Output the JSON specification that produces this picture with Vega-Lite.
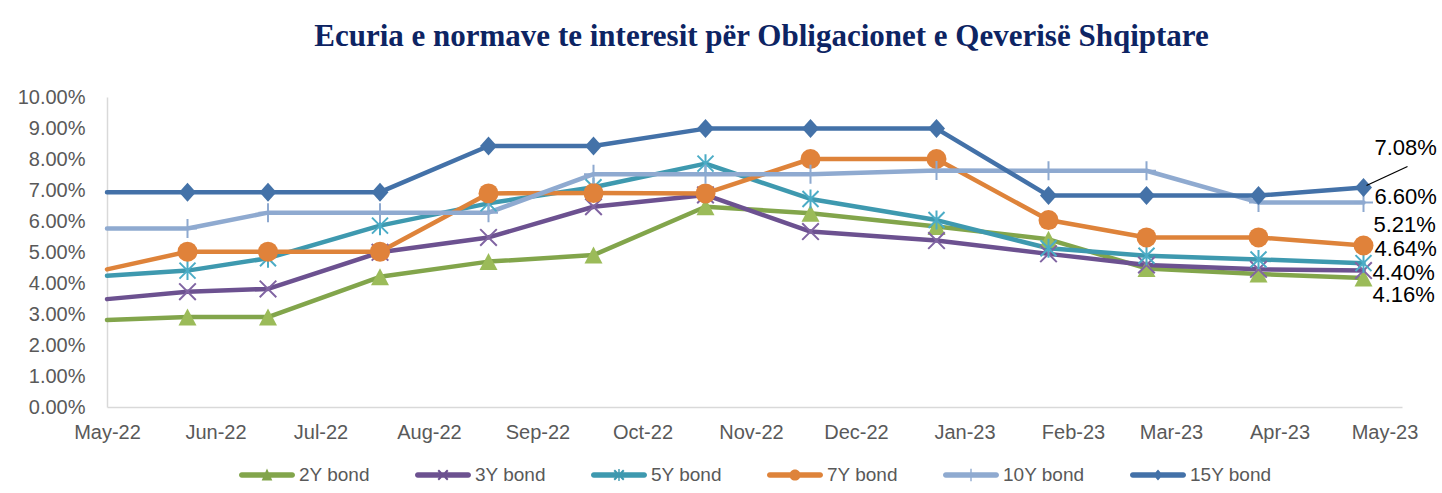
{
  "$schema": "https://vega.github.io/schema/vega-lite/v6.json",
  "autosize": {"type": "none"},
  "width": 1295,
  "height": 310,
  "padding": {"left": 107, "top": 97, "right": 40, "bottom": 86},
  "background": "white",
  "title": {
    "text": "Ecuria e normave te interesit për Obligacionet e Qeverisë Shqiptare",
    "font": "Liberation Serif",
    "fontSize": 31,
    "fontWeight": "bold",
    "color": "#0D2463",
    "anchor": "middle",
    "baseline": "alphabetic",
    "offset": 10,
    "dx": 7
  },
  "config": {
    "view": {"stroke": null},
    "font": "Liberation Sans",
    "legend": {"layout": {"bottom": {"anchor": "middle"}}}
  },
  "data": {
    "format": {"parse": {"date": "date"}},
    "values": [
      {"date": "2022-05-01T00:00:00", "series": "2Y bond", "rate": 0.0281},
      {"date": "2022-05-01T00:00:00", "series": "3Y bond", "rate": 0.0348},
      {"date": "2022-05-01T00:00:00", "series": "5Y bond", "rate": 0.0423},
      {"date": "2022-05-01T00:00:00", "series": "7Y bond", "rate": 0.0444},
      {"date": "2022-05-01T00:00:00", "series": "10Y bond", "rate": 0.0576},
      {"date": "2022-05-01T00:00:00", "series": "15Y bond", "rate": 0.0693},
      {"date": "2022-05-24T00:00:00", "series": "2Y bond", "rate": 0.0290},
      {"date": "2022-05-24T00:00:00", "series": "3Y bond", "rate": 0.0372},
      {"date": "2022-05-24T00:00:00", "series": "5Y bond", "rate": 0.0440},
      {"date": "2022-05-24T00:00:00", "series": "7Y bond", "rate": 0.0501},
      {"date": "2022-05-24T00:00:00", "series": "10Y bond", "rate": 0.0576},
      {"date": "2022-05-24T00:00:00", "series": "15Y bond", "rate": 0.0693},
      {"date": "2022-06-16T00:00:00", "series": "2Y bond", "rate": 0.0290},
      {"date": "2022-06-16T00:00:00", "series": "3Y bond", "rate": 0.0381},
      {"date": "2022-06-16T00:00:00", "series": "5Y bond", "rate": 0.0480},
      {"date": "2022-06-16T00:00:00", "series": "7Y bond", "rate": 0.0501},
      {"date": "2022-06-16T00:00:00", "series": "10Y bond", "rate": 0.0627},
      {"date": "2022-06-16T00:00:00", "series": "15Y bond", "rate": 0.0693},
      {"date": "2022-07-18T00:00:00", "series": "2Y bond", "rate": 0.0420},
      {"date": "2022-07-18T00:00:00", "series": "3Y bond", "rate": 0.0499},
      {"date": "2022-07-18T00:00:00", "series": "5Y bond", "rate": 0.0585},
      {"date": "2022-07-18T00:00:00", "series": "7Y bond", "rate": 0.0501},
      {"date": "2022-07-18T00:00:00", "series": "10Y bond", "rate": 0.0627},
      {"date": "2022-07-18T00:00:00", "series": "15Y bond", "rate": 0.0693},
      {"date": "2022-08-18T00:00:00", "series": "2Y bond", "rate": 0.0469},
      {"date": "2022-08-18T00:00:00", "series": "3Y bond", "rate": 0.0547},
      {"date": "2022-08-18T00:00:00", "series": "5Y bond", "rate": 0.0657},
      {"date": "2022-08-18T00:00:00", "series": "7Y bond", "rate": 0.0689},
      {"date": "2022-08-18T00:00:00", "series": "10Y bond", "rate": 0.0627},
      {"date": "2022-08-18T00:00:00", "series": "15Y bond", "rate": 0.0842},
      {"date": "2022-09-17T00:00:00", "series": "2Y bond", "rate": 0.0490},
      {"date": "2022-09-17T00:00:00", "series": "3Y bond", "rate": 0.0646},
      {"date": "2022-09-17T00:00:00", "series": "5Y bond", "rate": 0.0709},
      {"date": "2022-09-17T00:00:00", "series": "7Y bond", "rate": 0.0690},
      {"date": "2022-09-17T00:00:00", "series": "10Y bond", "rate": 0.0751},
      {"date": "2022-09-17T00:00:00", "series": "15Y bond", "rate": 0.0842},
      {"date": "2022-10-19T00:00:00", "series": "2Y bond", "rate": 0.0646},
      {"date": "2022-10-19T00:00:00", "series": "3Y bond", "rate": 0.0684},
      {"date": "2022-10-19T00:00:00", "series": "5Y bond", "rate": 0.0785},
      {"date": "2022-10-19T00:00:00", "series": "7Y bond", "rate": 0.0689},
      {"date": "2022-10-19T00:00:00", "series": "10Y bond", "rate": 0.0751},
      {"date": "2022-10-19T00:00:00", "series": "15Y bond", "rate": 0.0898},
      {"date": "2022-11-18T00:00:00", "series": "2Y bond", "rate": 0.0625},
      {"date": "2022-11-18T00:00:00", "series": "3Y bond", "rate": 0.0566},
      {"date": "2022-11-18T00:00:00", "series": "5Y bond", "rate": 0.0671},
      {"date": "2022-11-18T00:00:00", "series": "7Y bond", "rate": 0.0800},
      {"date": "2022-11-18T00:00:00", "series": "10Y bond", "rate": 0.0751},
      {"date": "2022-11-18T00:00:00", "series": "15Y bond", "rate": 0.0898},
      {"date": "2022-12-24T00:00:00", "series": "2Y bond", "rate": 0.0582},
      {"date": "2022-12-24T00:00:00", "series": "3Y bond", "rate": 0.0537},
      {"date": "2022-12-24T00:00:00", "series": "5Y bond", "rate": 0.0603},
      {"date": "2022-12-24T00:00:00", "series": "7Y bond", "rate": 0.0800},
      {"date": "2022-12-24T00:00:00", "series": "10Y bond", "rate": 0.0763},
      {"date": "2022-12-24T00:00:00", "series": "15Y bond", "rate": 0.0898},
      {"date": "2023-01-25T00:00:00", "series": "2Y bond", "rate": 0.0541},
      {"date": "2023-01-25T00:00:00", "series": "3Y bond", "rate": 0.0494},
      {"date": "2023-01-25T00:00:00", "series": "5Y bond", "rate": 0.0512},
      {"date": "2023-01-25T00:00:00", "series": "7Y bond", "rate": 0.0603},
      {"date": "2023-01-25T00:00:00", "series": "10Y bond", "rate": 0.0762},
      {"date": "2023-01-25T00:00:00", "series": "15Y bond", "rate": 0.0682},
      {"date": "2023-02-22T00:00:00", "series": "2Y bond", "rate": 0.0447},
      {"date": "2023-02-22T00:00:00", "series": "3Y bond", "rate": 0.0458},
      {"date": "2023-02-22T00:00:00", "series": "5Y bond", "rate": 0.0488},
      {"date": "2023-02-22T00:00:00", "series": "7Y bond", "rate": 0.0547},
      {"date": "2023-02-22T00:00:00", "series": "10Y bond", "rate": 0.0762},
      {"date": "2023-02-22T00:00:00", "series": "15Y bond", "rate": 0.0682},
      {"date": "2023-03-26T00:00:00", "series": "2Y bond", "rate": 0.0429},
      {"date": "2023-03-26T00:00:00", "series": "3Y bond", "rate": 0.0444},
      {"date": "2023-03-26T00:00:00", "series": "5Y bond", "rate": 0.0476},
      {"date": "2023-03-26T00:00:00", "series": "7Y bond", "rate": 0.0547},
      {"date": "2023-03-26T00:00:00", "series": "10Y bond", "rate": 0.0660},
      {"date": "2023-03-26T00:00:00", "series": "15Y bond", "rate": 0.0682},
      {"date": "2023-04-25T00:00:00", "series": "2Y bond", "rate": 0.0416},
      {"date": "2023-04-25T00:00:00", "series": "3Y bond", "rate": 0.0440},
      {"date": "2023-04-25T00:00:00", "series": "5Y bond", "rate": 0.0464},
      {"date": "2023-04-25T00:00:00", "series": "7Y bond", "rate": 0.0521},
      {"date": "2023-04-25T00:00:00", "series": "10Y bond", "rate": 0.0660},
      {"date": "2023-04-25T00:00:00", "series": "15Y bond", "rate": 0.0708}
    ]
  },
  "encoding": {
    "x": {
      "field": "date",
      "type": "temporal",
      "title": null,
      "scale": {"domain": [{"year": 2022, "month": 5, "date": 1}, {"year": 2023, "month": 5, "date": 6}]},
      "axis": {
        "values": [
          {"year": 2022, "month": 5, "date": 1}, {"year": 2022, "month": 6, "date": 1},
          {"year": 2022, "month": 7, "date": 1}, {"year": 2022, "month": 8, "date": 1},
          {"year": 2022, "month": 9, "date": 1}, {"year": 2022, "month": 10, "date": 1},
          {"year": 2022, "month": 11, "date": 1}, {"year": 2022, "month": 12, "date": 1},
          {"year": 2023, "month": 1, "date": 1}, {"year": 2023, "month": 2, "date": 1},
          {"year": 2023, "month": 3, "date": 1}, {"year": 2023, "month": 4, "date": 1},
          {"year": 2023, "month": 5, "date": 1}
        ],
        "format": "%b-%y",
        "labelFlush": false,
        "labelOverlap": false,
        "ticks": false,
        "grid": false,
        "domainColor": "#D9D9D9",
        "domainWidth": 1.5,
        "labelFont": "Liberation Sans",
        "labelFontSize": 20,
        "labelColor": "#595959",
        "labelPadding": 15
      }
    },
    "y": {
      "field": "rate",
      "type": "quantitative",
      "title": null,
      "scale": {"domain": [0, 0.1], "nice": false, "zero": true},
      "axis": {
        "values": [0, 0.01, 0.02, 0.03, 0.04, 0.05, 0.06, 0.07, 0.08, 0.09, 0.1],
        "format": ".2%",
        "ticks": false,
        "grid": false,
        "domainColor": "#D9D9D9",
        "domainWidth": 1.5,
        "labelFont": "Liberation Sans",
        "labelFontSize": 20,
        "labelColor": "#595959",
        "labelPadding": 22
      }
    }
  },
  "layer": [
    {
      "mark": {"type": "line", "strokeWidth": 4.5, "strokeJoin": "round", "strokeCap": "round"},
      "encoding": {
        "color": {
          "field": "series", "type": "nominal", "legend": null,
          "scale": {
            "domain": ["2Y bond", "3Y bond", "5Y bond", "7Y bond", "10Y bond", "15Y bond"],
            "range": ["#82A54B", "#6C5190", "#3E99AF", "#DE833A", "#8FAAD0", "#4371A8"]
          }
        }
      }
    },
    {
      "transform": [{"filter": "datum.date > datetime(2022, 4, 1)"}],
      "mark": {"type": "point", "filled": true, "size": 400, "opacity": 1},
      "encoding": {
        "color": {
          "field": "series", "type": "nominal", "legend": null,
          "scale": {
            "domain": ["2Y bond", "3Y bond", "5Y bond", "7Y bond", "10Y bond", "15Y bond"],
            "range": ["#9BBB59", "#8064A2", "#4BACC6", "#E0823A", "#8EA9D0", "#4472A8"]
          }
        },
        "shape": {
          "field": "series", "type": "nominal", "legend": null,
          "scale": {
            "domain": ["2Y bond", "3Y bond", "5Y bond", "7Y bond", "10Y bond", "15Y bond"],
            "range": [
              "M0,-0.85 L0.9,0.85 L-0.9,0.85 Z",
              "M-0.76,-0.9 L0.9,0.76 L0.76,0.9 L-0.9,-0.76 Z M0.9,-0.76 L-0.76,0.9 L-0.9,0.76 L0.76,-0.9 Z",
              "M-0.73,-0.87 L0.87,0.73 L0.73,0.87 L-0.87,-0.73 Z M0.87,-0.73 L-0.73,0.87 L-0.87,0.73 L0.73,-0.87 Z M-0.1,-0.95 L0.1,-0.95 L0.1,0.95 L-0.1,0.95 Z",
              "circle",
              "M-0.1,-0.95 L0.1,-0.95 L0.1,0.95 L-0.1,0.95 Z M-0.95,-0.1 L0.95,-0.1 L0.95,0.1 L-0.95,0.1 Z",
              "M0,-0.95 L0.85,0 L0,0.95 L-0.85,0 Z"
            ]
          }
        }
      }
    },
    {
      "transform": [{"filter": "datum.date < datetime(2000, 0, 1)"}],
      "mark": {"type": "point", "filled": true, "opacity": 1},
      "encoding": {
        "color": {
          "field": "series", "type": "nominal",
          "scale": {
            "domain": ["2Y bond", "3Y bond", "5Y bond", "7Y bond", "10Y bond", "15Y bond"],
            "range": ["#82A54B", "#6C5190", "#3E99AF", "#DE833A", "#8FAAD0", "#4371A8"]
          },
          "legend": {
            "title": null,
            "orient": "bottom",
            "direction": "horizontal",
            "symbolSize": 3136,
            "symbolOpacity": 1,
            "labelFont": "Liberation Sans",
            "labelFontSize": 19,
            "labelColor": "#595959",
            "labelOffset": 3,
            "columnPadding": 42,
            "offset": 4
          }
        },
        "shape": {
          "field": "series", "type": "nominal",
          "scale": {
            "domain": ["2Y bond", "3Y bond", "5Y bond", "7Y bond", "10Y bond", "15Y bond"],
            "range": [
              "M-0.9,-0.1 L0.9,-0.1 A0.1,0.1 0 0 1 0.9,0.1 L-0.9,0.1 A0.1,0.1 0 0 1 -0.9,-0.1 Z M0,-0.23 L0.19,0.2 L-0.19,0.2 Z",
              "M-0.9,-0.1 L0.9,-0.1 A0.1,0.1 0 0 1 0.9,0.1 L-0.9,0.1 A0.1,0.1 0 0 1 -0.9,-0.1 Z M-0.145,-0.195 L0.195,0.145 L0.145,0.195 L-0.195,-0.145 Z M0.195,-0.145 L-0.145,0.195 L-0.195,0.145 L0.145,-0.195 Z",
              "M-0.9,-0.1 L0.9,-0.1 A0.1,0.1 0 0 1 0.9,0.1 L-0.9,0.1 A0.1,0.1 0 0 1 -0.9,-0.1 Z M-0.145,-0.195 L0.195,0.145 L0.145,0.195 L-0.195,-0.145 Z M0.195,-0.145 L-0.145,0.195 L-0.195,0.145 L0.145,-0.195 Z M-0.025,-0.21 L0.025,-0.21 L0.025,0.21 L-0.025,0.21 Z",
              "M-0.9,-0.1 L0.9,-0.1 A0.1,0.1 0 0 1 0.9,0.1 L-0.9,0.1 A0.1,0.1 0 0 1 -0.9,-0.1 Z M-0.2,0 A0.2,0.2 0 1 1 0.2,0 A0.2,0.2 0 1 1 -0.2,0 Z",
              "M-0.9,-0.1 L0.9,-0.1 A0.1,0.1 0 0 1 0.9,0.1 L-0.9,0.1 A0.1,0.1 0 0 1 -0.9,-0.1 Z M-0.025,-0.22 L0.025,-0.22 L0.025,0.22 L-0.025,0.22 Z",
              "M-0.9,-0.1 L0.9,-0.1 A0.1,0.1 0 0 1 0.9,0.1 L-0.9,0.1 A0.1,0.1 0 0 1 -0.9,-0.1 Z M0,-0.2 L0.17,0 L0,0.2 L-0.17,0 Z"
            ]
          }
        }
      }
    },
    {
      "transform": [{"filter": "datum.series === '15Y bond' && datum.date > datetime(2023, 3, 1)"}],
      "mark": {"type": "rule", "color": "#000000", "strokeWidth": 1.3, "xOffset": 3, "yOffset": -2, "x2Offset": 44, "y2Offset": -21},
      "encoding": {"x2": {"field": "date"}, "y2": {"field": "rate"}}
    },
    {
      "transform": [{"filter": "datum.series === '15Y bond' && datum.date > datetime(2023, 3, 1)"}],
      "mark": {"type": "text", "align": "left", "baseline": "middle", "dx": 11, "dy": -40, "fontSize": 22, "font": "Liberation Sans", "color": "#000000"},
      "encoding": {"text": {"field": "rate", "format": ".2%"}}
    },
    {
      "transform": [{"filter": "datum.series === '10Y bond' && datum.date > datetime(2023, 3, 1)"}],
      "mark": {"type": "text", "align": "left", "baseline": "middle", "dx": 11, "dy": -5, "fontSize": 22, "font": "Liberation Sans", "color": "#000000"},
      "encoding": {"text": {"field": "rate", "format": ".2%"}}
    },
    {
      "transform": [{"filter": "datum.series === '7Y bond' && datum.date > datetime(2023, 3, 1)"}],
      "mark": {"type": "text", "align": "left", "baseline": "middle", "dx": 10, "dy": -20, "fontSize": 22, "font": "Liberation Sans", "color": "#000000"},
      "encoding": {"text": {"field": "rate", "format": ".2%"}}
    },
    {
      "transform": [{"filter": "datum.series === '5Y bond' && datum.date > datetime(2023, 3, 1)"}],
      "mark": {"type": "text", "align": "left", "baseline": "middle", "dx": 11, "dy": -14, "fontSize": 22, "font": "Liberation Sans", "color": "#000000"},
      "encoding": {"text": {"field": "rate", "format": ".2%"}}
    },
    {
      "transform": [{"filter": "datum.series === '3Y bond' && datum.date > datetime(2023, 3, 1)"}],
      "mark": {"type": "text", "align": "left", "baseline": "middle", "dx": 9, "dy": 2, "fontSize": 22, "font": "Liberation Sans", "color": "#000000"},
      "encoding": {"text": {"field": "rate", "format": ".2%"}}
    },
    {
      "transform": [{"filter": "datum.series === '2Y bond' && datum.date > datetime(2023, 3, 1)"}],
      "mark": {"type": "text", "align": "left", "baseline": "middle", "dx": 9, "dy": 17, "fontSize": 22, "font": "Liberation Sans", "color": "#000000"},
      "encoding": {"text": {"field": "rate", "format": ".2%"}}
    }
  ],
  "resolve": {
    "scale": {"color": "independent", "shape": "independent"},
    "legend": {"color": "independent", "shape": "independent"}
  }
}
